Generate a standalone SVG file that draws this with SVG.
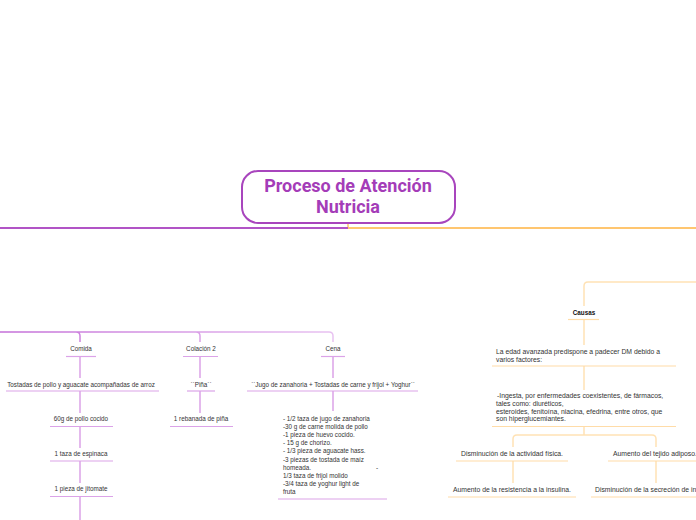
<svg xmlns="http://www.w3.org/2000/svg" width="696" height="520" viewBox="0 0 696 520">
<defs>
<linearGradient id="lg" x1="0" y1="0" x2="333" y2="0" gradientUnits="userSpaceOnUse">
<stop offset="0" stop-color="#c46fd8"/>
<stop offset="1" stop-color="#e8c2f1"/>
</linearGradient>
<style>
.t{font-family:"Liberation Sans",Arial,sans-serif;font-size:6.3px;fill:#333;}
.r{font-size:6.8px;}
.c{text-anchor:middle;}
.b{font-weight:bold;fill:#111;}
.pu{stroke:#dba3e8;stroke-width:1.2;fill:none;}
.pv{stroke:#dba3e8;stroke-width:1.5;fill:none;}
.ou{stroke:#ffdca8;stroke-width:1.2;fill:none;}
.ov{stroke:#ffe2b5;stroke-width:1.5;fill:none;}
.title{font-family:Roboto,"Liberation Sans",sans-serif;font-weight:bold;font-size:18px;fill:#a43cb8;text-anchor:middle;}
</style>
</defs>
<rect width="696" height="520" fill="#fff"/>
<g id="connectors">
<path d="M348,223 V228" stroke="#ffc46a" stroke-width="1.5" fill="none"/>
<path d="M0,228 H348" stroke="#b154c6" stroke-width="2" fill="none"/>
<path d="M348,228 H696" stroke="#ffc670" stroke-width="2" fill="none"/>
<path d="M0,332 H329 Q333,332 333,336 V342 M76,332 Q80,332 80,336 V342 M196,332 Q200,332 200,336 V342" stroke="url(#lg)" stroke-width="1.5" fill="none"/>
<path class="pv" d="M80,357 V378 M80,391 V413 M80,426 V448 M80,461 V483 M80,497 V520"/>
<path class="pv" d="M200,357 V378 M200,391 V413"/>
<path class="pv" d="M333,357 V378 M333,391 V411"/>
<path class="ov" d="M696,282 H588 Q584,282 584,286 V306"/>
<path class="ov" d="M584,320 V345 M584,366 V390 M584,427 V435 M517,435 H652 Q656,435 656,439 V447 M517,435 Q513,435 513,439 V447 M513,461 V483 M656,461 V483"/>
</g>
<g id="title">
<rect x="242" y="171" width="213" height="52" rx="16" fill="#fff" stroke="#a845bd" stroke-width="2"/>
<text class="title" x="348" y="192">Proceso de Atención</text>
<text class="title" x="348" y="213">Nutricia</text>
</g>
<g id="comida">
<text class="t c" x="81" y="351">Comida</text>
<path class="pu" d="M66,356.5 H96"/>
</g>
<g id="tostadas">
<text class="t c" x="81" y="386.5">Tostadas de pollo y aguacate acompañadas de arroz</text>
<path class="pu" d="M6,391 H159"/>
</g>
<g id="pollo">
<text class="t c" x="81" y="421">60g de pollo cocido</text>
<path class="pu" d="M50,426.5 H113"/>
</g>
<g id="espinaca">
<text class="t c" x="81" y="456">1 taza de espinaca</text>
<path class="pu" d="M50,461 H113"/>
</g>
<g id="jitomate">
<text class="t c" x="81" y="491">1 pieza de jitomate</text>
<path class="pu" d="M50,496.5 H113"/>
</g>
<g id="colacion2">
<text class="t c" x="201" y="351">Colación 2</text>
<path class="pu" d="M183,356.5 H218"/>
</g>
<g id="pina">
<text class="t c" x="201" y="386.5">``Piña``</text>
<path class="pu" d="M187,391 H215"/>
</g>
<g id="rebanada">
<text class="t c" x="201" y="421">1 rebanada de piña</text>
<path class="pu" d="M170,426.5 H233"/>
</g>
<g id="cena">
<text class="t c" x="333" y="351">Cena</text>
<path class="pu" d="M321,356.5 H345"/>
</g>
<g id="jugo">
<text class="t c" x="333" y="386.5">``Jugo de zanahoria + Tostadas de carne y frijol + Yoghur``</text>
<path class="pu" d="M247,391 H418"/>
</g>
<g id="cena-detalle">
<text class="t" x="283" y="421">- 1/2 taza de jugo de zanahoria</text>
<text class="t" x="283" y="429.1">-30 g de carne molida de pollo</text>
<text class="t" x="283" y="437.2">-1 pieza de huevo cocido.</text>
<text class="t" x="283" y="445.3">- 15 g de chorizo.</text>
<text class="t" x="283" y="453.4">- 1/3 pieza de aguacate hass.</text>
<text class="t" x="283" y="461.5">-3 piezas de tostada de maíz</text>
<text class="t" x="283" y="469.6">homeada.</text>
<text class="t" x="376" y="469.6">-</text>
<text class="t" x="283" y="477.7">1/3 taza de frijol molido</text>
<text class="t" x="283" y="485.8">-3/4 taza de yoghur light de</text>
<text class="t" x="283" y="493.9">fruta</text>
<path class="pu" d="M278,499 H387"/>
</g>
<g id="causas">
<text class="t c b" x="584" y="315">Causas</text>
<path class="ou" d="M568,319.5 H599"/>
</g>
<g id="edad">
<text class="t r" x="496" y="354">La edad avanzada predispone a padecer DM debido a</text>
<text class="t r" x="496" y="361.5">varios factores:</text>
<path class="ou" d="M492,366 H676"/>
</g>
<g id="ingesta">
<text class="t r" x="497" y="398">-Ingesta, por enfermedades coexistentes, de fármacos,</text>
<text class="t r" x="496" y="405.5">tales como: diuréticos,</text>
<text class="t r" x="496" y="413.5">esteroides, fenitoína, niacina, efedrina, entre otros, que</text>
<text class="t r" x="496" y="421">son hiperglucemiantes.</text>
<path class="ou" d="M492,426.5 H676"/>
</g>
<g id="actividad">
<text class="t r c" x="512" y="456">Disminución de la actividad física.</text>
<path class="ou" d="M456,461 H568"/>
</g>
<g id="adiposo">
<text class="t r" x="613" y="456">Aumento del tejido adiposo.</text>
<path class="ou" d="M608,461 H696"/>
</g>
<g id="resistencia">
<text class="t r c" x="512" y="492">Aumento de la resistencia a la insulina.</text>
<path class="ou" d="M448,497 H576"/>
</g>
<g id="secrecion">
<text class="t r" x="595" y="492">Disminución de la secreción de insulina.</text>
<path class="ou" d="M591,497 H696"/>
</g>
</svg>
